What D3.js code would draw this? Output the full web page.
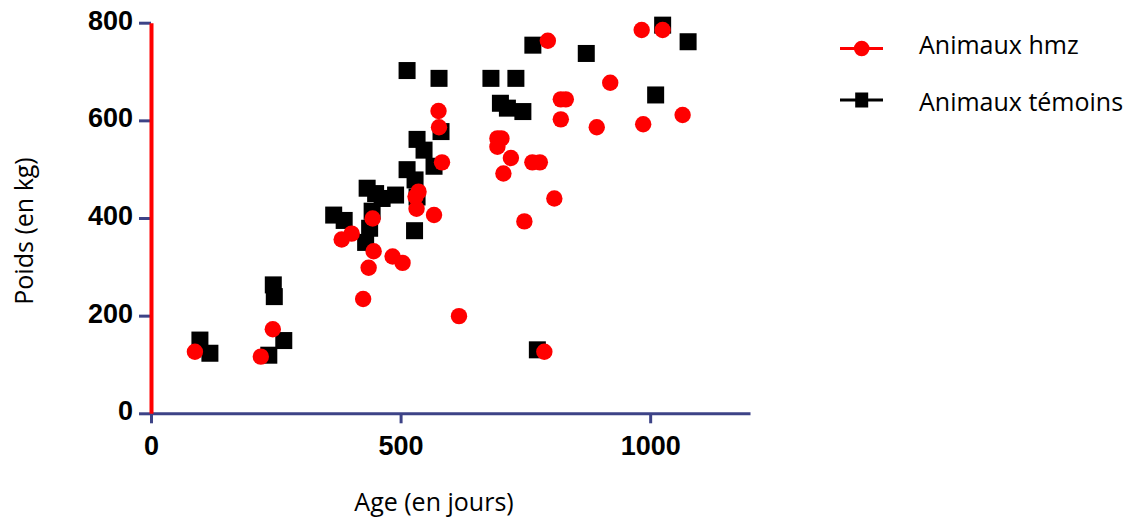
<!DOCTYPE html>
<html>
<head>
<meta charset="utf-8">
<script src="https://cdn.jsdelivr.net/npm/d3@7"></script>
<style>
  html, body { margin: 0; padding: 0; background: #fff; }
  svg { display: block; }
</style>
</head>
<body>
<svg id="chart" width="1132" height="520"></svg>
<script>
// ---- Data ----
const hmzAge = [88, 220, 244, 382, 402, 425, 436, 444, 446, 484, 504, 530, 536, 532, 567, 576, 577, 583, 617, 694, 702, 694, 706, 721, 748, 764, 779, 788, 795, 808, 821, 831, 821, 893, 920, 983, 986, 1025, 1065];
const hmzPoids = [126, 116, 172, 356, 368, 234, 298, 399, 332, 321, 308, 444, 454, 419, 406, 619, 586, 514, 199, 563, 563, 546, 491, 523, 393, 514, 514, 126, 763, 440, 643, 643, 602, 586, 677, 785, 592, 785, 611];

const temoinsAge = [98, 118, 236, 266, 245, 247, 366, 387, 430, 438, 443, 433, 450, 463, 490, 513, 529, 533, 528, 533, 547, 567, 513, 577, 581, 681, 731, 700, 714, 745, 765, 774, 872, 1011, 1025, 1076];
const temoinsPoids = [150, 123, 119, 149, 263, 239, 406, 395, 350, 379, 414, 461, 450, 440, 447, 499, 478, 443, 374, 561, 539, 506, 702, 686, 577, 686, 686, 635, 625, 618, 754, 130, 737, 652, 795, 761];

const xTicks = [0, 500, 1000];
const yTicks = [0, 200, 400, 600, 800];
const seriesNames = ["Animaux hmz", "Animaux témoins"];
const xTitle = "Age (en jours)";
const yTitle = "Poids (en kg)";

// ---- Styles ----
const RED = "#ff0000";
const BLACK = "#000000";
const NAVY = "#3d4387";
const TEXT_FONT = "'Open Sans', sans-serif";
const TICK_FONT = "'Liberation Sans', Arial, sans-serif";

const svg = d3.select("#chart");

const x = d3.scaleLinear().domain([0, 1200]).range([151, 750]);
const y = d3.scaleLinear().domain([0, 800]).range([413.3, 22.7]);

// ---- Axes ----
const xAxis = d3.axisBottom(x).tickValues(xTicks).tickSize(10).tickSizeOuter(0).tickPadding(13).tickFormat(d3.format("d"));
const gx = svg.append("g").attr("transform", "translate(0,413.3)").call(xAxis);
gx.select(".domain").attr("stroke", NAVY).attr("stroke-width", 3);
gx.selectAll(".tick line").attr("stroke", NAVY).attr("stroke-width", 3);
gx.selectAll(".tick text")
  .attr("fill", "#000")
  .style("font-family", TICK_FONT)
  .style("font-weight", "bold")
  .style("font-size", "27px");

const yAxis = d3.axisLeft(y).tickValues(yTicks).tickSize(12).tickSizeOuter(0).tickPadding(6).tickFormat(d3.format("d"));
const gy = svg.append("g").attr("transform", "translate(151,0)").call(yAxis);
gy.selectAll(".tick line").attr("stroke", NAVY).attr("stroke-width", 3);
gy.select(".domain").attr("stroke", RED).attr("stroke-width", 4).raise();
gy.selectAll(".tick text")
  .attr("fill", "#000")
  .attr("dy", "0.24em")
  .style("font-family", TICK_FONT)
  .style("font-weight", "bold")
  .style("font-size", "27px");

// ---- Axis titles ----
svg.append("text")
  .attr("x", 434).attr("y", 511)
  .attr("text-anchor", "middle")
  .style("font-family", TEXT_FONT)
  .style("font-size", "25px")
  .attr("fill", "#000")
  .text(xTitle);

svg.append("text")
  .attr("transform", "translate(33,231) rotate(-90)")
  .attr("text-anchor", "middle")
  .style("font-family", TEXT_FONT)
  .style("font-size", "25px")
  .attr("fill", "#000")
  .text(yTitle);

// ---- Points ----
const temoins = temoinsAge.map((a, i) => ({ age: a, poids: temoinsPoids[i] }));
const hmz = hmzAge.map((a, i) => ({ age: a, poids: hmzPoids[i] }));

const SQ = 17;
svg.append("g").selectAll("rect").data(temoins).join("rect")
  .attr("x", d => x(d.age) - SQ / 2)
  .attr("y", d => y(d.poids) - SQ / 2)
  .attr("width", SQ).attr("height", SQ)
  .attr("fill", BLACK);

svg.append("g").selectAll("circle").data(hmz).join("circle")
  .attr("cx", d => x(d.age))
  .attr("cy", d => y(d.poids))
  .attr("r", 8.2)
  .attr("fill", RED);

// ---- Legend ----
const legend = svg.append("g");
const legendRows = [
  { name: seriesNames[0], color: RED, shape: "circle", y: 48.5, ty: 54 },
  { name: seriesNames[1], color: BLACK, shape: "square", y: 100, ty: 111 }
];
legendRows.forEach(r => {
  legend.append("line")
    .attr("x1", 840).attr("x2", 883)
    .attr("y1", r.y).attr("y2", r.y)
    .attr("stroke", r.color).attr("stroke-width", 3);
  if (r.shape === "circle") {
    legend.append("circle").attr("cx", 861.7).attr("cy", r.y).attr("r", 7.8).attr("fill", r.color);
  } else {
    legend.append("rect").attr("x", 861.7 - 6.5).attr("y", r.y - 7.5).attr("width", 13).attr("height", 15).attr("fill", r.color);
  }
  legend.append("text")
    .attr("x", 919).attr("y", r.ty)
    .style("font-family", TEXT_FONT)
    .style("font-size", "25px")
    .attr("fill", "#000")
    .text(r.name);
});
</script>
</body>
</html>
